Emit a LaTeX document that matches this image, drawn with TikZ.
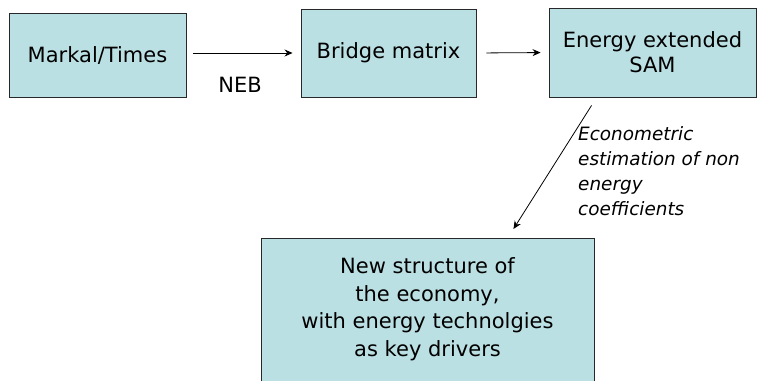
\documentclass[tikz,border=0pt]{standalone}
\usepackage{fontspec}
\setmainfont{DejaVu Sans}
\usetikzlibrary{arrows.meta,calc}
\definecolor{boxfill}{RGB}{187,224,227}
\definecolor{boxline}{RGB}{40,40,40}
\begin{document}
\begin{tikzpicture}[x=1pt,y=-1pt,
  box/.style={draw=boxline,line width=0.9pt,fill=boxfill,inner sep=0pt,
    align=center,font=\fontsize{21}{25}\selectfont},
  link/.style={draw=black,line width=0.8pt,-{Stealth[length=8pt,width=7pt]}},
  note/.style={font=\fontsize{21}{25}\selectfont},
  slanted/.style={font=\fontsize{18.4}{25}\selectfont\itshape,align=left,anchor=north west,inner sep=0pt}]
  \useasboundingbox (0,0) rectangle (757,380);
  \begin{scope}
    \clip (0,0) rectangle (757,380);
    % top row
    \node[box,minimum width=177pt,minimum height=84pt] (markal) at (97.5,55) {Markal/Times};
    \node[box,minimum width=175pt,minimum height=88pt] (bridge) at (388.5,53) {Bridge matrix};
    \node[box,minimum width=207pt,minimum height=89pt] (sam) at (652.5,52.5) {Energy extended\\SAM};
    % result box, running past the lower edge
    \node[box,minimum width=333pt,minimum height=180pt,anchor=north] (newbox) at (427.5,238) {};
    \node[align=center,font=\fontsize{21}{27.5}\selectfont,inner sep=0pt] (newtext) at (427.5,309)
      {New structure of\\the economy,\\with energy technolgies\\as key drivers};
  \end{scope}
  % connectors
  \draw[link,shorten <=7pt,shorten >=8pt] (markal.east |- bridge.west) -- (bridge.west);
  \node[note] (neb) at (240,85) {NEB};
  \draw[link,shorten <=10pt,shorten >=8pt] (bridge.east) -- (sam.west);
  \coordinate (diagstart) at ($(sam.south west)+(43,8)$);
  \coordinate (diagend) at ($(newbox.north east)+(-81,-9)$);
  \draw[link] (diagstart) -- (diagend);
  \node[slanted] (econ) at (578,126)
    {Econometric\\estimation of non\\energy\\coefficients};
\end{tikzpicture}
\end{document}
